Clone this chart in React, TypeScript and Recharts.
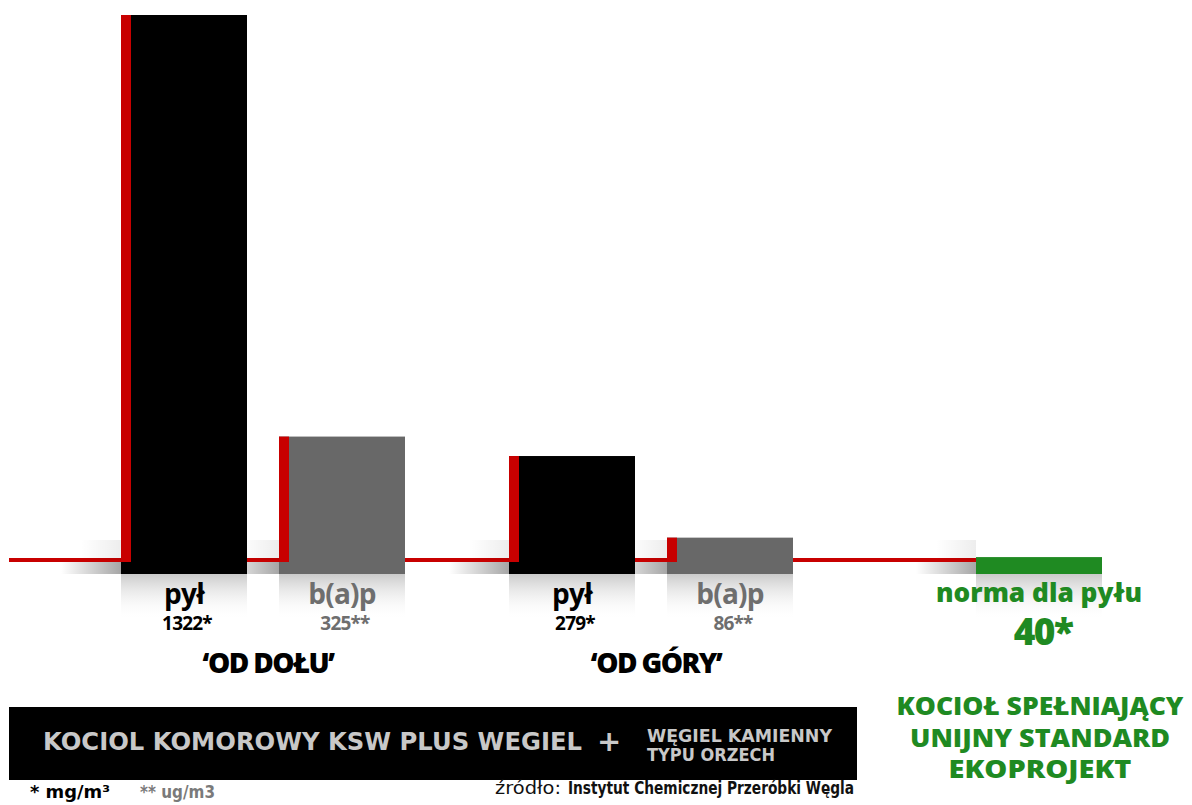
import { Bar, BarChart, LabelList, XAxis, YAxis } from "recharts";

const groups = ["‘OD DOŁU’", "‘OD GÓRY’", "norma dla pyłu"];
const pylValues = [1322, 279, null];
const bapValues = [325, 86, null];
const normaValues = [null, null, 40];
const normaNote = ["KOCIOŁ SPEŁNIAJĄCY", "UNIJNY STANDARD", "EKOPROJEKT"];

const RED = "#c80000";
const GREEN = "#1f8a22";
const GREY = "#686868";
const FONT = "'Open Sans', sans-serif";
const noteWidths = [287, 260, 183];

const data = groups.map((g, i) => ({
  group: g,
  pyl: pylValues[i],
  bap: bapValues[i],
  norma: normaValues[i],
}));

function edgeBar(edge: boolean) {
  return (p: any) => {
    const { x, y, width, height, fill } = p;
    if (!height || height <= 0) return <g />;
    const bottom = y + height;
    return (
      <g>
        <rect x={x - 60} y={bottom - 12} width={60} height={12} fill="url(#shadowL)" />
        <rect x={x - 40} y={bottom - 34} width={40} height={20} fill="url(#shadowU)" />
        <rect x={x} y={bottom} width={width} height={46} fill="url(#reflect)" />
        <rect x={x} y={y} width={width} height={height} fill={fill} />
        {edge && <rect x={x} y={y} width={10} height={Math.max(0, height - 12)} fill={RED} />}
      </g>
    );
  };
}

function barLabel(name: string, color: string, mark: string) {
  return (p: any) => {
    const { x, y, width, height, value } = p;
    if (value == null) return null;
    const cx = x + width / 2;
    const b = y + height;
    return (
      <g fontFamily={FONT} fontWeight={700} textAnchor="middle">
        <text x={cx} y={b + 30} fontSize={28} fill={color} letterSpacing={-0.8}>
          {name}
        </text>
        <text x={cx + 3} y={b + 56} fontSize={19} fill={color} letterSpacing={-0.8}>
          {value}
          {mark}
        </text>
      </g>
    );
  };
}

function normaLabel(p: any) {
  const { x, y, width, height, value } = p;
  if (value == null) return null;
  return (
    <text
      x={x + width / 2 + 4}
      y={y + height + 71}
      textAnchor="middle"
      fontFamily={FONT}
      fontWeight={800}
      fontSize={37}
      fill={GREEN}
      letterSpacing={-1.5}
    >
      {value}*
    </text>
  );
}

function GroupTick(props: any) {
  const { x, y, payload } = props;
  if (payload.value === groups[2]) {
    return (
      <g fontFamily={FONT} fontWeight={800} textAnchor="middle" fill={GREEN}>
        <text x={x} y={y + 28} fontSize={27} textLength={206} lengthAdjust="spacingAndGlyphs">
          {payload.value}
        </text>
        {normaNote.map((line, i) => (
          <text
            key={line}
            x={x + 1}
            y={y + 141 + i * 31.5}
            fontSize={25}
            textLength={noteWidths[i]}
            lengthAdjust="spacingAndGlyphs"
          >
            {line}
          </text>
        ))}
      </g>
    );
  }
  return (
    <text
      x={x + 5}
      y={y + 99}
      textAnchor="middle"
      fontFamily={FONT}
      fontWeight={800}
      fontSize={28}
      fill="#000"
      letterSpacing={-1.6}
    >
      {payload.value}
    </text>
  );
}

export default function App() {
  return (
    <div
      style={{
        position: "absolute",
        left: 0,
        top: 0,
        width: 1192,
        height: 805,
        overflow: "hidden",
        background: "#fff",
      }}
    >
      <BarChart
        width={1240}
        height={805}
        data={data}
        barGap={32}
        margin={{ top: 15, right: 7, left: 9, bottom: 0 }}
      >
        <defs>
          <linearGradient id="reflect" x1="0" y1="0" x2="0" y2="1">
            <stop offset="0%" stopColor="#bdbdbd" stopOpacity={0.8} />
            <stop offset="100%" stopColor="#ffffff" stopOpacity={0} />
          </linearGradient>
          <linearGradient id="shadowL" x1="0" y1="0" x2="1" y2="0">
            <stop offset="0%" stopColor="#000" stopOpacity={0} />
            <stop offset="100%" stopColor="#000" stopOpacity={0.35} />
          </linearGradient>
          <linearGradient id="shadowU" x1="0" y1="0" x2="1" y2="0">
            <stop offset="0%" stopColor="#000" stopOpacity={0} />
            <stop offset="100%" stopColor="#000" stopOpacity={0.07} />
          </linearGradient>
        </defs>
        <XAxis
          xAxisId="main"
          dataKey="group"
          height={231}
          padding={{ left: 60, right: 0 }}
          interval={0}
          tickLine={false}
          tickSize={0}
          tickMargin={0}
          tick={<GroupTick />}
          zIndex={0}
          axisLine={{
            stroke: RED,
            strokeWidth: 4,
            transform: "translate(0,-14)",
            strokeDasharray: "1040 4000",
          }}
        />
        <XAxis xAxisId="norma" dataKey="group" hide padding={{ left: 60, right: 0 }} />
        <YAxis hide domain={[0, "dataMax"]} />
        <Bar
          xAxisId="main"
          dataKey="pyl"
          barSize={126}
          fill="#000"
          shape={edgeBar(true)}
          isAnimationActive={false}
        >
          <LabelList dataKey="pyl" content={barLabel("pył", "#000", "*")} />
        </Bar>
        <Bar
          xAxisId="main"
          dataKey="bap"
          barSize={126}
          fill={GREY}
          shape={edgeBar(true)}
          isAnimationActive={false}
        >
          <LabelList dataKey="bap" content={barLabel("b(a)p", "#6e6e6e", "**")} />
        </Bar>
        <Bar
          xAxisId="norma"
          dataKey="norma"
          barSize={126}
          fill={GREEN}
          shape={edgeBar(false)}
          isAnimationActive={false}
        >
          <LabelList dataKey="norma" content={normaLabel} />
        </Bar>
      </BarChart>
      <svg
        width={1192}
        height={805}
        style={{ position: "absolute", left: 0, top: 0, pointerEvents: "none" }}
      >
        <rect x={9} y={707} width={848} height={73} fill="#000" />
        <g fontFamily="'DejaVu Sans', sans-serif" fontWeight={700} fill="#c8c8c8">
          <text x={43} y={750} fontSize={25} textLength={539} lengthAdjust="spacingAndGlyphs">
            KOCIOL KOMOROWY KSW PLUS WEGIEL
          </text>
          <text x={597} y={751} fontSize={29}>
            +
          </text>
          <text x={647} y={742} fontSize={17} textLength={185} lengthAdjust="spacingAndGlyphs">
            WĘGIEL KAMIENNY
          </text>
          <text x={647} y={761} fontSize={17} textLength={128} lengthAdjust="spacingAndGlyphs">
            TYPU ORZECH
          </text>
        </g>
        <g fontFamily="'DejaVu Sans', sans-serif" fontSize={17}>
          <text x={30} y={798} fontWeight={700} fill="#000" textLength={80} lengthAdjust="spacingAndGlyphs">
            * mg/m³
          </text>
          <text x={140} y={798} fontWeight={700} fill="#7a7a7a" textLength={75} lengthAdjust="spacingAndGlyphs">
            ** ug/m3
          </text>
          <text x={495} y={794} fontWeight={400} fill="#111" textLength={66} lengthAdjust="spacingAndGlyphs">
            źródło:
          </text>
          <text x={568} y={794} fontWeight={700} fill="#111" textLength={286} lengthAdjust="spacingAndGlyphs">
            Instytut Chemicznej Przeróbki Węgla
          </text>
        </g>
      </svg>
    </div>
  );
}
